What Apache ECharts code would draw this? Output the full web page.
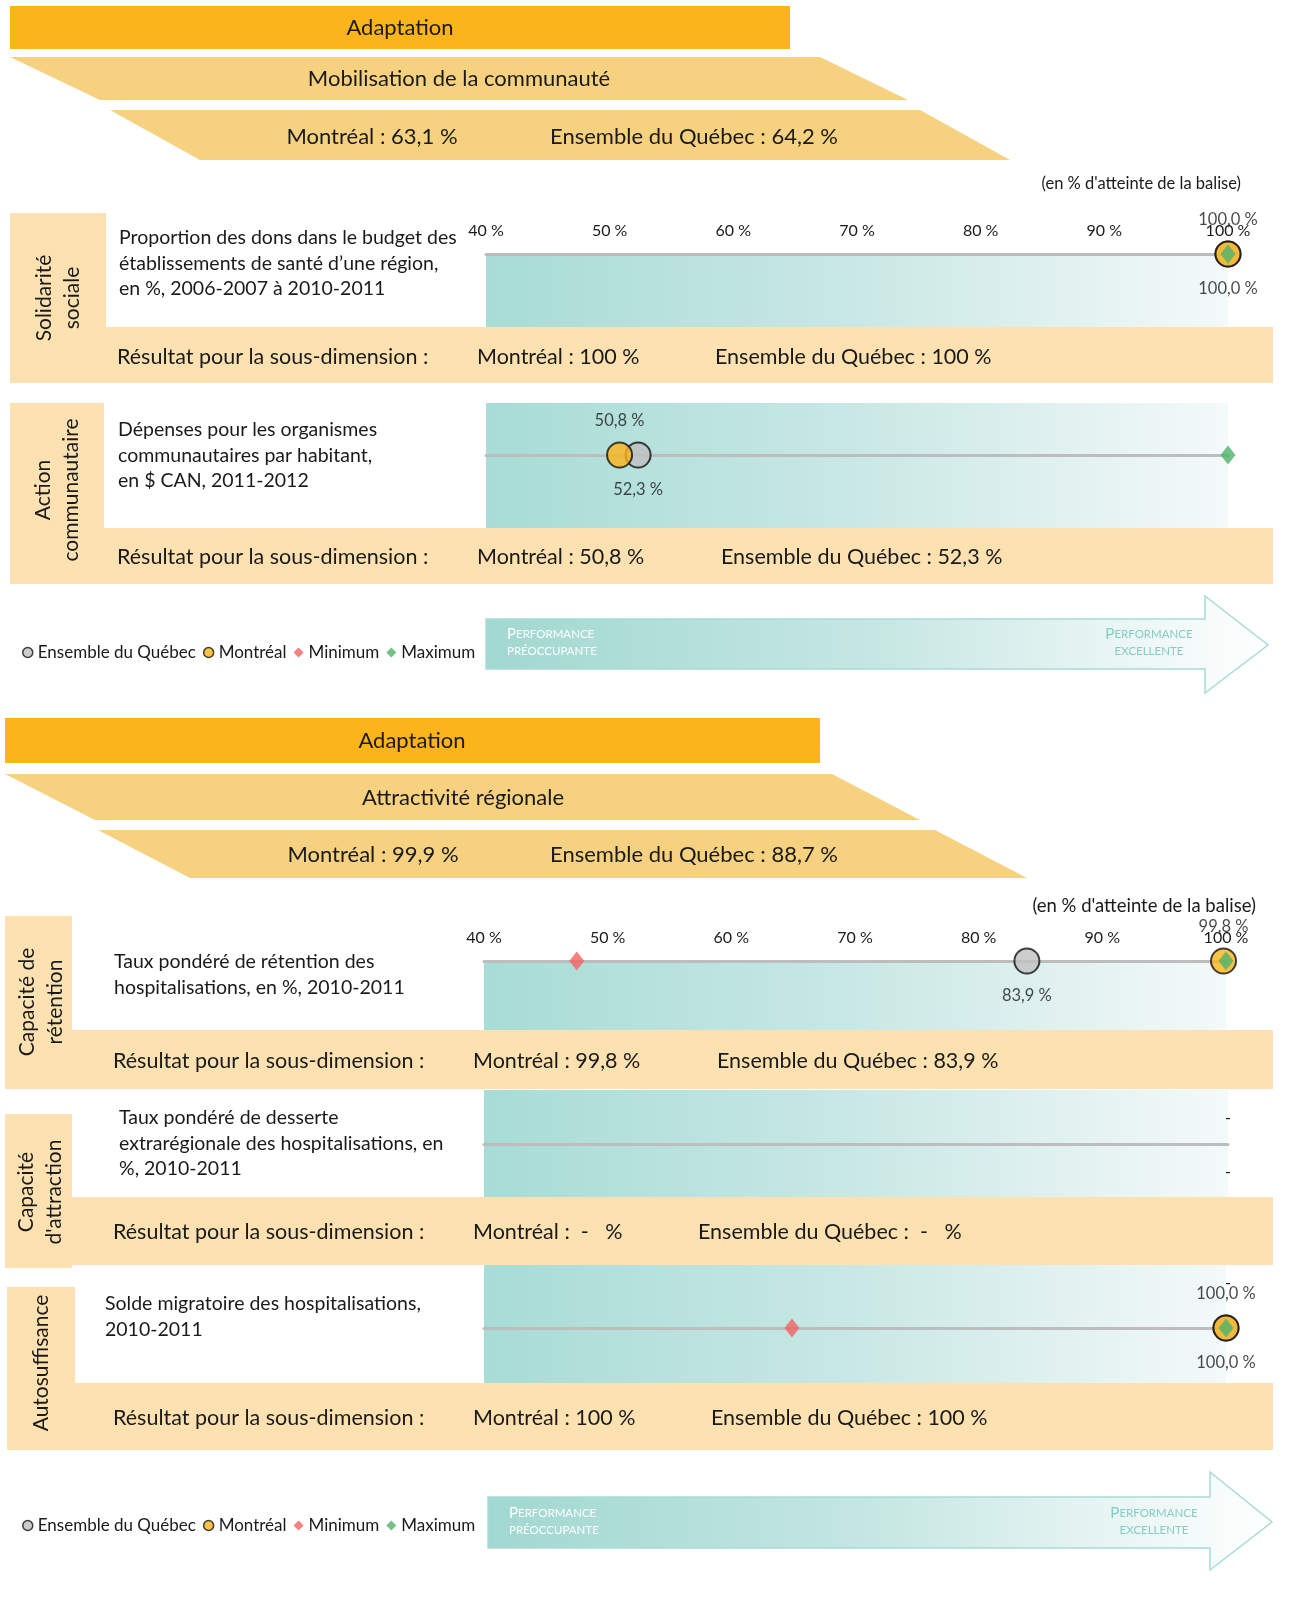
<!DOCTYPE html>
<html><head><meta charset="utf-8">
<script src="https://cdn.jsdelivr.net/npm/echarts@6/dist/echarts.min.js"></script>
<style>html,body{margin:0;padding:0;background:#fff}#c{width:1305px;height:1604px}</style>
</head><body><div id="c"></div>
<script>
// ---------- DATA ----------
const sectionTitles = ['Adaptation', 'Adaptation'];
const dimensionTitles = ['Mobilisation de la communauté', 'Attractivité régionale'];
const dimensionMontreal = [63.1, 99.9];
const dimensionQuebec = [64.2, 88.7];
const subDimensions = ['Solidarité\nsociale', 'Action\ncommunautaire', 'Capacité de\nrétention', 'Capacité\nd\'attraction', 'Autosuffisance'];
const indicators = [
  'Proportion des dons dans le budget des\nétablissements de santé d’une région,\nen %, 2006-2007 à 2010-2011',
  'Dépenses pour les organismes\ncommunautaires par habitant,\nen $ CAN, 2011-2012',
  'Taux pondéré de rétention des\nhospitalisations, en %, 2010-2011',
  'Taux pondéré de desserte\nextrarégionale des hospitalisations, en\n%, 2010-2011',
  'Solde migratoire des hospitalisations,\n2010-2011'
];
const montreal = [100, 50.8, 99.8, null, 100];
const quebec = [100, 52.3, 83.9, null, 100];
const minimum = [null, null, 47.5, null, 64.9];
const maximum = [100, 100, 100, null, 100];
const subMontreal = [100, 50.8, 99.8, null, 100];
const subQuebec = [100, 52.3, 83.9, null, 100];
const axisMin = 40, axisMax = 100, axisStep = 10;
const legendNames = ['Ensemble du Québec', 'Montréal', 'Minimum', 'Maximum'];

// ---------- LAYOUT ----------
const FONT = 'Lato, "Noto Sans", sans-serif';
const C = { orange: '#FBB419', band: '#F6D17F', peach: '#FDE1B1', gray: '#C0C0C0', red: '#F26163', green: '#4DB36B', text: '#1a1a1a' };
const rows = [
  { grid: [486, 254, 742, 73], line: 254, box: [10, 213, 96, 170], band: [10, 327, 1263, 56], lab: [58, 298], desc: [119, 238], resY: 357, resX: [117, 477, 715], showAxis: true, dash: [] },
  { grid: [486, 403, 742, 125], line: 455, box: [10, 403, 94, 181], band: [10, 528, 1263, 56], lab: [57, 490], desc: [118, 430], resY: 557, resX: [117, 477, 721], showAxis: false, dash: [] },
  { grid: [484, 961, 742, 69], line: 961, box: [5, 916, 67, 173], band: [5, 1030, 1268, 59], lab: [41, 1002], desc: [114, 962], resY: 1061, resX: [113, 473, 717], showAxis: true, dash: [] },
  { grid: [484, 1090, 744, 107], line: 1144, box: [5, 1114, 67, 154], band: [5, 1197, 1268, 68], lab: [40, 1192], desc: [119, 1118], resY: 1232, resX: [113, 473, 698], showAxis: false, dash: [[1228, 1118], [1228, 1172]] },
  { grid: [484, 1265, 742, 118], line: 1328, box: [7, 1287, 68, 163], band: [7, 1383, 1266, 67], lab: [41, 1363], desc: [105, 1304], resY: 1418, resX: [113, 473, 711], showAxis: false, dash: [[1228, 1283]] }
];
const sections = [
  { bar: [10, 6, 780, 43], barText: [400, 28], band1: [[10,57],[820,57],[908,100],[100,100]], band1Text: [459, 79],
    band2: [[110,110],[920,110],[1010,160],[200,160]], mtlText: [372, 137], qcText: [694, 137],
    note: [1241, 184, 16.5], legendTop: 639, arrow: { x0: 486, y0: 619, y1: 669, xh: 1205, ht: 596, hb: 693, tip: 1268, ty: 645 } },
  { bar: [5, 718, 815, 45], barText: [412, 741], band1: [[5,774],[832,774],[920,820],[95,820]], band1Text: [463, 798],
    band2: [[98,830],[935,830],[1027,878],[190,878]], mtlText: [373, 855], qcText: [694, 855],
    note: [1256, 906, 18.5], legendTop: 1512, arrow: { x0: 488, y0: 1497, y1: 1548, xh: 1210, ht: 1472, hb: 1570, tip: 1272, ty: 1522 } }
];
const SZ = { head: 22, res: 21.5, desc: 19.5, tick: 16, point: 16.5, legend: 17, vlab: 21 };

const pct1 = v => v.toFixed(1).replace('.', ',') + ' %';
const pctSub = v => v === null ? ' -   %' : (Number.isInteger(v) ? String(v) : v.toFixed(1).replace('.', ',')) + ' %';

function txt(x, y, text, size, opt) {
  opt = opt || {};
  const align = opt.align || 'left';
  const va = opt.va || 'middle';
  return { type: 'text', x, y, rotation: opt.rotation || 0, z: 50,
    style: { text, font: (opt.weight || 'normal') + ' ' + size + 'px ' + FONT, fill: opt.color || C.text,
      align: align, verticalAlign: va, textAlign: align, textVerticalAlign: va, lineHeight: opt.lh || size * 1.25, rich: opt.rich } };
}
const grad = (c0, c1, c2) => ({ type: 'linear', x: 0, y: 0, x2: 1, y2: 0, colorStops: [{ offset: 0, color: c0 }, { offset: 0.5, color: c1 }, { offset: 1, color: c2 }] });

const graphics = [];
sections.forEach((s, i) => {
  graphics.push({ type: 'rect', z: 1, shape: { x: s.bar[0], y: s.bar[1], width: s.bar[2], height: s.bar[3] }, style: { fill: C.orange } });
  graphics.push(txt(s.barText[0], s.barText[1], sectionTitles[i], SZ.head, { align: 'center' }));
  graphics.push({ type: 'polygon', z: 1, shape: { points: s.band1 }, style: { fill: C.band } });
  graphics.push(txt(s.band1Text[0], s.band1Text[1], dimensionTitles[i], SZ.head, { align: 'center' }));
  graphics.push({ type: 'polygon', z: 1, shape: { points: s.band2 }, style: { fill: C.band } });
  graphics.push(txt(s.mtlText[0], s.mtlText[1], 'Montréal : ' + pct1(dimensionMontreal[i]), SZ.head, { align: 'center' }));
  graphics.push(txt(s.qcText[0], s.qcText[1], 'Ensemble du Québec : ' + pct1(dimensionQuebec[i]), SZ.head, { align: 'center' }));
  graphics.push(txt(s.note[0], s.note[1], "(en % d'atteinte de la balise)", s.note[2], { align: 'right' }));
  const a = s.arrow;
  graphics.push({ type: 'polygon', z: 1, shape: { points: [[a.x0, a.y0], [a.xh, a.y0], [a.xh, a.ht], [a.tip, a.ty], [a.xh, a.hb], [a.xh, a.y1], [a.x0, a.y1]] },
    style: { fill: grad('#A1D8D1', '#C6E7E3', '#FFFFFF'), stroke: '#A8DBD5', lineWidth: 1.5 } });
  const midY = (a.y0 + a.y1) / 2;
  const richFor = col => ({ a: { fontSize: 15, fontFamily: FONT, fill: col, color: col, lineHeight: 17 }, b: { fontSize: 11.5, fontFamily: FONT, fill: col, color: col, lineHeight: 17 } });
  graphics.push(txt(a.x0 + 21, midY - 18, '{a|P}{b|ERFORMANCE}\n{b|PRÉOCCUPANTE}', 11.5, { va: 'top', lh: 17, color: '#ffffff', rich: richFor('#ffffff') }));
  graphics.push(txt(a.xh - 56, midY - 18, '{a|P}{b|ERFORMANCE}\n{b|EXCELLENTE}', 11.5, { align: 'center', va: 'top', lh: 17, color: '#86CCC3', rich: richFor('#86CCC3') }));
});

rows.forEach((r, i) => {
  graphics.push({ type: 'rect', z: 1, shape: { x: r.box[0], y: r.box[1], width: r.box[2], height: r.box[3] }, style: { fill: C.peach } });
  graphics.push({ type: 'rect', z: 1, shape: { x: r.band[0], y: r.band[1], width: r.band[2], height: r.band[3] }, style: { fill: C.peach } });
  graphics.push(txt(r.lab[0], r.lab[1], subDimensions[i], SZ.vlab, { align: 'center', rotation: Math.PI / 2, lh: 28 }));
  graphics.push(txt(r.desc[0], r.desc[1] - 12.75, indicators[i], SZ.desc, { va: 'top', lh: 25.5 }));
  graphics.push(txt(r.resX[0], r.resY, 'Résultat pour la sous-dimension :', SZ.res));
  graphics.push(txt(r.resX[1], r.resY, 'Montréal : ' + pctSub(subMontreal[i]), SZ.res));
  graphics.push(txt(r.resX[2], r.resY, 'Ensemble du Québec : ' + pctSub(subQuebec[i]), SZ.res));
  r.dash.forEach(d => graphics.push(txt(d[0], d[1], '-', 16, { align: 'center' })));
});

const grids = [], xAxes = [], yAxes = [], series = [];
rows.forEach((r, i) => {
  grids.push({ left: r.grid[0], top: r.grid[1], width: r.grid[2], height: r.grid[3], show: true, borderWidth: 0,
    backgroundColor: grad('#A8DCD6', '#C9E8E5', '#F4F9F9'), containLabel: false });
  xAxes.push({ gridIndex: i, type: 'value', min: axisMin, max: axisMax, interval: axisStep, position: 'top',
    axisLine: { show: true, onZero: true, lineStyle: { color: '#BDBDBD', width: 3 } }, axisTick: { show: false }, splitLine: { show: false },
    axisLabel: { show: r.showAxis, margin: 15, formatter: v => v + ' %', fontSize: SZ.tick, fontFamily: FONT, color: C.text } });
  const top = r.line - r.grid[1], bottom = r.grid[1] + r.grid[3] - r.line;
  yAxes.push({ gridIndex: i, type: 'value', min: -bottom, max: top, show: false });
  const pt = v => v === null ? [] : [[v, 0]];
  const base = { type: 'scatter', xAxisIndex: i, yAxisIndex: i, clip: false, animation: false };
  series.push(Object.assign({}, base, { name: 'Ensemble du Québec', symbol: 'circle', symbolSize: 25, data: pt(quebec[i]),
    itemStyle: { color: C.gray, borderColor: '#111', borderWidth: 2 },
    label: { show: true, position: 'bottom', distance: 13, formatter: p => pct1(p.value[0]), fontSize: SZ.point, fontFamily: FONT, color: C.text } }));
  series.push(Object.assign({}, base, { name: 'Montréal', symbol: 'circle', symbolSize: 25, data: pt(montreal[i]),
    itemStyle: { color: C.orange, borderColor: '#111', borderWidth: 2 },
    label: { show: true, position: 'top', distance: 12, formatter: p => pct1(p.value[0]), fontSize: SZ.point, fontFamily: FONT, color: C.text } }));
  series.push(Object.assign({}, base, { name: 'Minimum', symbol: 'diamond', symbolSize: [15, 19], data: pt(minimum[i]),
    itemStyle: { color: C.red } }));
  series.push(Object.assign({}, base, { name: 'Maximum', symbol: 'diamond', symbolSize: [15, 19], data: pt(maximum[i]),
    itemStyle: { color: C.green } }));
});

const legends = sections.map(s => ({ left: 17, top: s.legendTop, itemWidth: 10, itemHeight: 10, itemGap: 7, selectedMode: false,
  data: legendNames, textStyle: { fontSize: SZ.legend, fontFamily: FONT, color: C.text }, itemStyle: { borderWidth: 1.5 } }));

const chart = echarts.init(document.getElementById('c'), null, { renderer: 'canvas' });
chart.setOption({ animation: false, backgroundColor: '#ffffff', textStyle: { fontFamily: FONT },
  grid: grids, xAxis: xAxes, yAxis: yAxes, series, legend: legends, graphic: { elements: graphics } });
</script></body></html>
